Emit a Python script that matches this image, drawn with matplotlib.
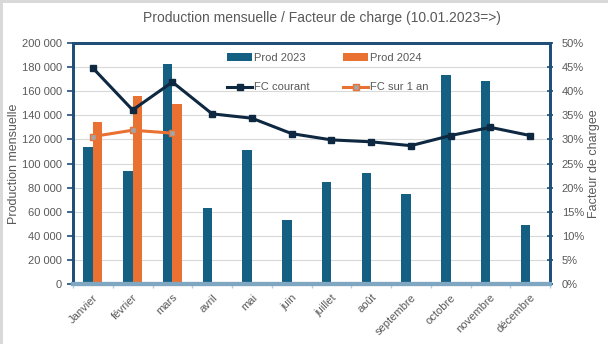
import matplotlib
matplotlib.use("Agg")
import matplotlib.pyplot as plt
import numpy as np
from matplotlib.patches import Rectangle
from matplotlib.ticker import FuncFormatter, MultipleLocator

mois = ["Janvier", "février", "mars", "avril", "mai", "juin", "juillet",
        "août", "septembre", "octobre", "novembre", "décembre"]
prod_2023 = [113400, 93500, 182600, 63000, 110900, 53000, 84400,
             91900, 74700, 173400, 168500, 49000]
prod_2024 = [134400, 156000, 149400]
fc_courant = [44.8, 36.1, 41.9, 35.3, 34.4, 31.2, 29.9, 29.5, 28.7, 30.8, 32.5, 30.8]
fc_1an = [30.6, 31.9, 31.3]

BLEU = "#156082"
ORANGE = "#E97132"
MARINE = "#0E2841"
AXE = "#1F4E79"
GRIS_TXT = "#595959"

plt.rcParams["font.family"] = ["Liberation Sans Narrow", "Liberation Sans", "DejaVu Sans"]

W, H = 608, 344
fig = plt.figure(figsize=(W / 100, H / 100), dpi=100)
fig.patch.set_facecolor("white")
# bandes grises haut et gauche
fig.patches.append(Rectangle((0, 0), 3 / W, 1, transform=fig.transFigure,
                             facecolor="#d9d9d9", edgecolor="none", zorder=-1))
fig.patches.append(Rectangle((0, 1 - 3 / H), 1, 3 / H, transform=fig.transFigure,
                             facecolor="#d9d9d9", edgecolor="none", zorder=-1))

ax = fig.add_axes([73 / W, 1 - 284 / H, (550 - 73) / W, (284 - 43) / H])
ax2 = ax.twinx()

x = np.arange(len(mois))
w = 0.235
ax.bar(x - 0.12, prod_2023, w, color=BLEU, label="Prod 2023", zorder=2)
ax.bar(x[:len(prod_2024)] + 0.12, prod_2024, w, color=ORANGE,
       label="Prod 2024", zorder=2)

ax2.plot(x, fc_courant, color=MARINE, lw=2.2, marker="s", ms=5,
         mfc=MARINE, mec=MARINE, label="FC courant", zorder=3)
ax2.plot(x[:len(fc_1an)], fc_1an, color=ORANGE, lw=2.2, marker="s", ms=5,
         mfc="#a5a5a5", mec=ORANGE, label="FC sur 1 an", zorder=3)

ax.set_xlim(-0.5, len(mois) - 0.5)
ax.set_ylim(0, 200000)
ax2.set_ylim(0, 50)

ax.yaxis.set_major_locator(MultipleLocator(20000))
ax.yaxis.set_major_formatter(FuncFormatter(lambda v, p: f"{int(v):,}".replace(",", " ")))
ax2.yaxis.set_major_locator(MultipleLocator(5))
ax2.yaxis.set_major_formatter(FuncFormatter(lambda v, p: f"{int(v)}%"))

ax.grid(axis="y", color="#d9d9d9", lw=0.8, zorder=0)
ax.set_axisbelow(True)

for a in (ax, ax2):
    for s in ("left", "right", "top"):
        a.spines[s].set_color(AXE)
        a.spines[s].set_linewidth(2)
    a.spines["bottom"].set_color("#7fa7c1")
    a.spines["bottom"].set_linewidth(3)

ax.tick_params(axis="y", colors=GRIS_TXT, labelsize=8, length=4, width=1.2,
               color=AXE, direction="out", pad=4)
ax2.tick_params(axis="y", colors=GRIS_TXT, labelsize=8, length=5, width=1.2,
                color=AXE, direction="inout", pad=6)

ax.set_xticks(x)
ax.set_xticklabels(mois, rotation=45, ha="right", rotation_mode="anchor",
                   fontsize=8, color=GRIS_TXT)
ax.tick_params(axis="x", length=0, pad=6)
ax.set_xticks(np.arange(-0.5, len(mois)), minor=True)
ax.tick_params(axis="x", which="minor", length=3, color="#b4cde0", width=1)

ax.set_ylabel("Production mensuelle", color=GRIS_TXT, fontsize=9, labelpad=1)
ax2.set_ylabel("Facteur de chargee", color=GRIS_TXT, fontsize=9, labelpad=3)

fig.text(0.53, 1 - 18 / H, "Production mensuelle / Facteur de charge (10.01.2023=>)",
         ha="center", va="center", fontsize=10, color=GRIS_TXT)

h1, l1 = ax.get_legend_handles_labels()
h2, l2 = ax2.get_legend_handles_labels()
# ordre : Prod 2023 / FC courant en colonne 1, Prod 2024 / FC sur 1 an en colonne 2
ax.legend([h1[0], h2[0], h1[1], h2[1]], [l1[0], l2[0], l1[1], l2[1]], ncol=2,
          loc="upper left", bbox_to_anchor=(227 / W, 1 - 53 / H),
          bbox_transform=fig.transFigure, frameon=False, fontsize=8,
          labelcolor=GRIS_TXT, handlelength=2.25, columnspacing=3.0,
          handletextpad=0.2, labelspacing=1.75, borderpad=0, borderaxespad=0)

fig.savefig("out.png", dpi=100)
